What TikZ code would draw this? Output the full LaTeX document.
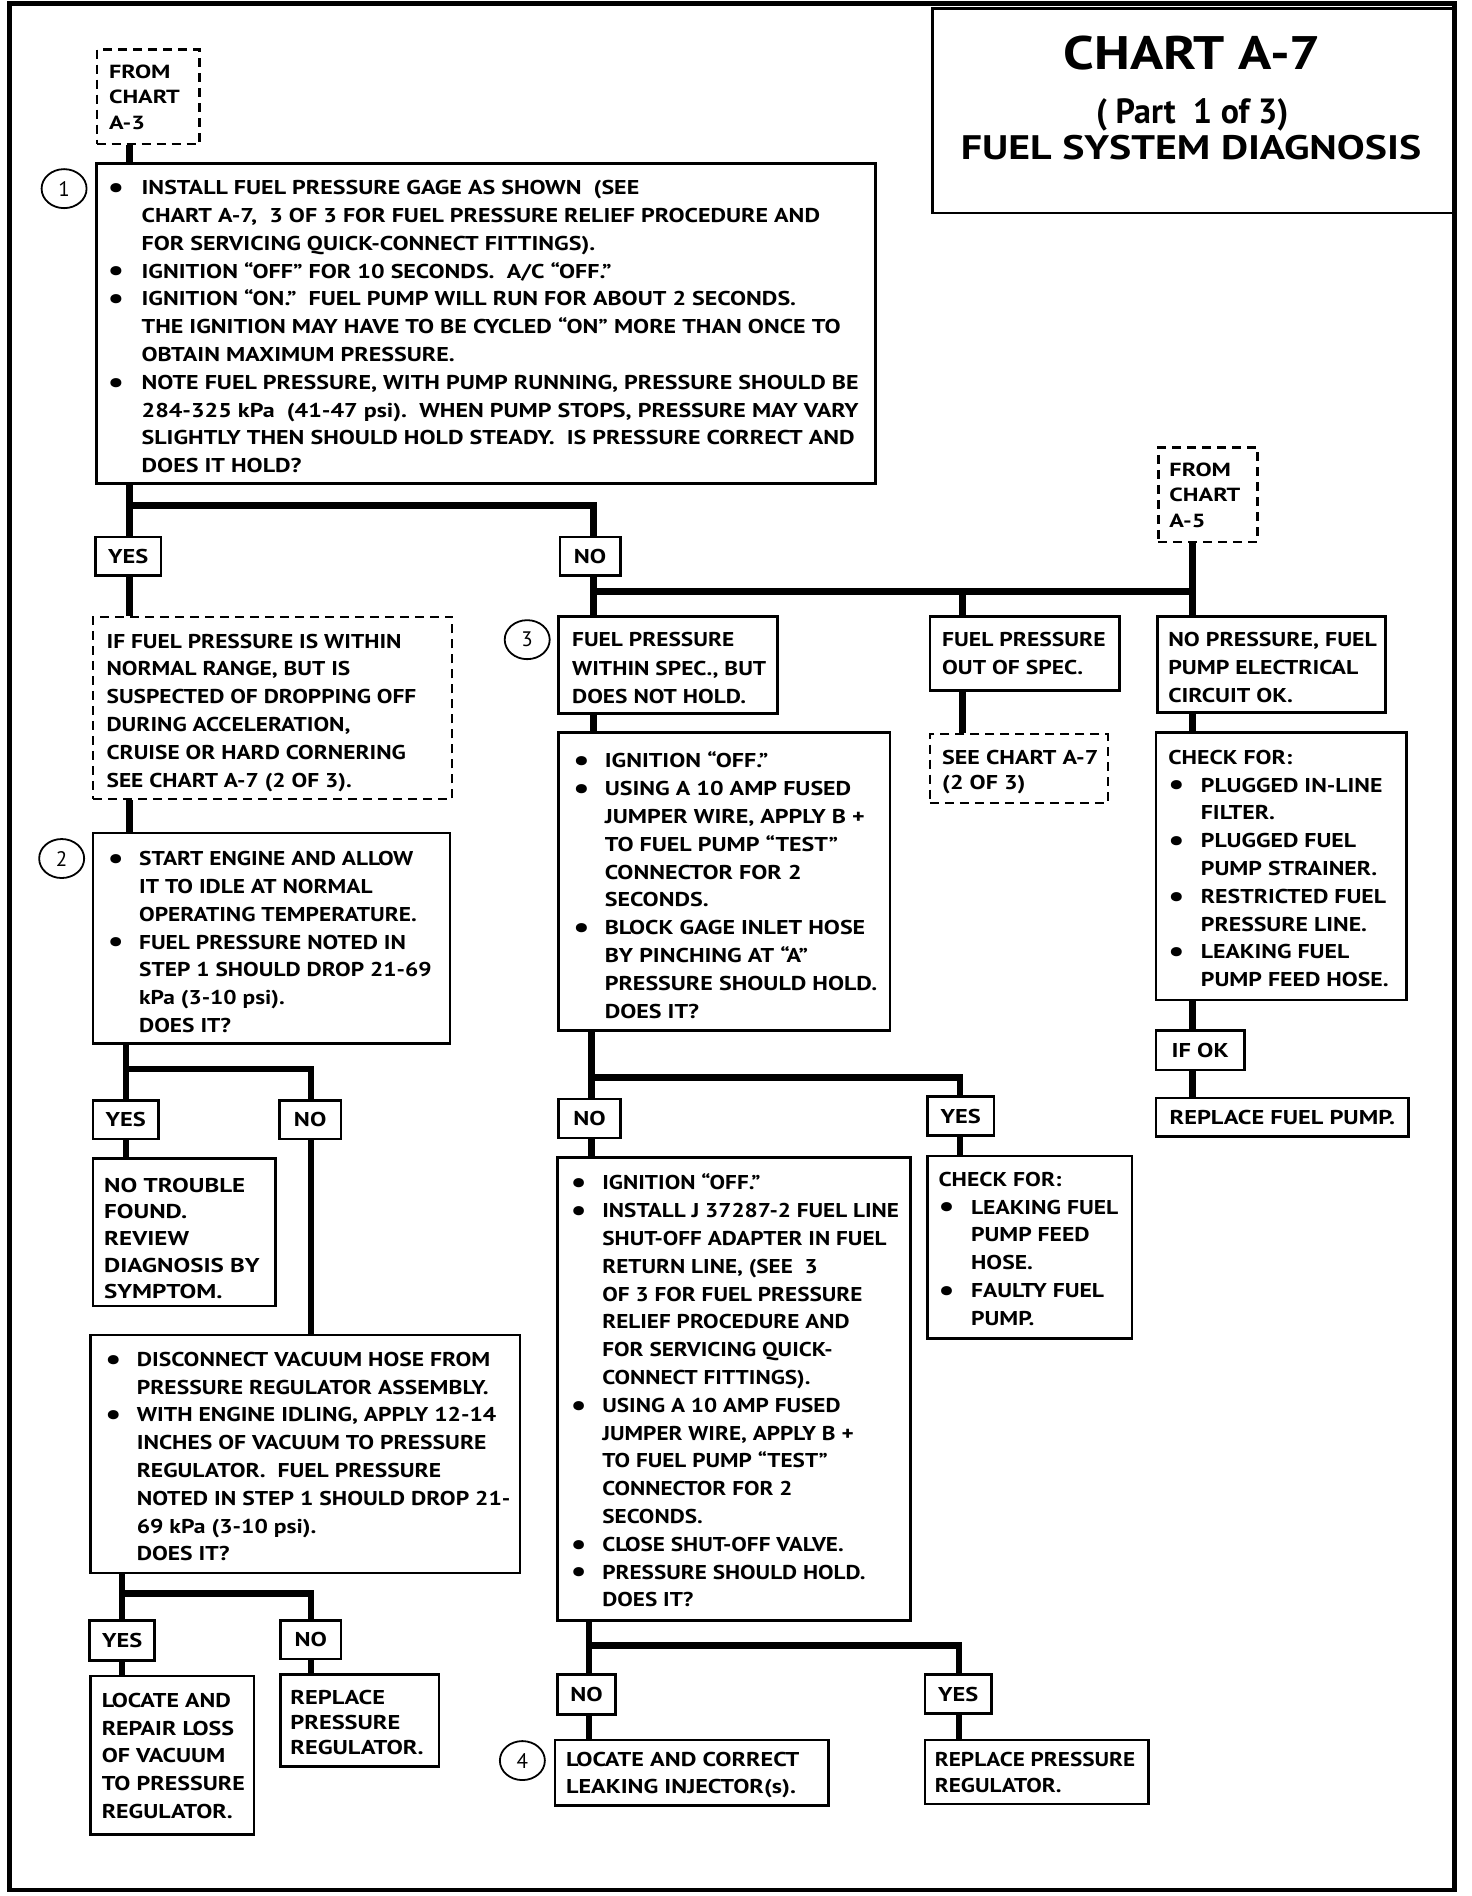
\documentclass[tikz,border=0pt]{standalone}
\usepackage{fontspec}
\setmainfont{PT Sans}
\usepackage{graphicx}
\usetikzlibrary{shapes.geometric}
\newlength\bw
\newcommand\tl[2][1.19]{\scalebox{#1}[1]{\vtop{\halign{##\hfil\cr#2\crcr}}}}
\newcommand\blist[3][1.19]{\setlength\bw{#2}\tl[#1]{#3}}
\newcommand\bul{\hbox to\bw{\raisebox{-2.8pt}{\scalebox{1.5}{\textbullet}}\hfil}}
\newcommand\nob{\hbox to\bw{}}
\newcommand\sx[1]{\scalebox{1.22}[1]{#1}}
\begin{document}
\begin{tikzpicture}[x=1.2092pt,y=-1.2092pt,
  box/.style={draw, line width=2.6pt, rectangle, inner sep=0pt},
  dbox/.style={box, line width=2.2pt, dash pattern=on 9pt off 6pt},
  rect/.style n args={4}{at={({(#1+#3)/2},{(#2+#4)/2})}, minimum width={(#3-#1)*1.2092pt}, minimum height={(#4-#2)*1.2092pt}},
  txt/.style={anchor=base west, inner sep=0pt, font=\bfseries\fontsize{20}{27.8}\selectfont},
  lbl/.style={box, font=\bfseries\fontsize{20}{24}\selectfont},
  conn/.style={line width=6.5pt},
  num/.style={draw, ellipse, line width=1.8pt, inner sep=0pt, minimum width=45pt, minimum height=39pt, font=\fontsize{21}{24}\selectfont}
]
\useasboundingbox (0,0) rectangle (1217.3,1568);
% frame
\draw[line width=4.5pt] (8,3) rectangle (1203,1563);
% title
\node[box, rect={771}{7}{1203}{176}] (title) {};
\node[anchor=base, inner sep=0pt, font=\bfseries\fontsize{47}{50}\selectfont] (tt1) at (986,57.7) {\scalebox{1.17}[1]{CHART A-7}};
\node[anchor=base, inner sep=0pt, font=\bfseries\fontsize{35}{40}\selectfont] (tt2) at (986,102) {\scalebox{0.97}[1]{( Part\ \ 1 of 3)}};
\node[anchor=base, inner sep=0pt, font=\bfseries\fontsize{34}{40}\selectfont] (tt3) at (985,132) {\scalebox{1.23}[1]{FUEL SYSTEM DIAGNOSIS}};

% column coordinates
\coordinate (xA) at (107,0);
\coordinate (xA2) at (104,0);
\coordinate (xA3) at (101,0);
\coordinate (xB) at (257,0);
\coordinate (xC) at (491,0);
\coordinate (xC2) at (489,0);
\coordinate (xC3) at (487,0);
\coordinate (xD) at (796,0);
\coordinate (xE) at (986,0);
\coordinate (xF) at (794,0);
\coordinate (xG) at (793,0);
\coordinate (j1) at (107,418);
\coordinate (j2) at (491,489);
\coordinate (j3) at (986,489);
\coordinate (j4) at (104,884);
\coordinate (j5) at (101,1318);
\coordinate (j6) at (489,891);
\coordinate (j7) at (487,1361);

% boxes
\node[dbox, rect={80}{41}{165}{119}] (a3) {};
\node[box, rect={80}{135}{724}{400}] (b1) {};
\node[lbl, rect={79}{444}{133}{476}] (yes1) {\sx{YES}};
\node[lbl, rect={463}{444}{513}{476}] (no1) {\sx{NO}};
\node[dbox, rect={77}{510}{374}{661}] (dA) {};
\node[box, rect={77}{689}{372}{863}] (b2) {};
\node[lbl, rect={77}{910}{131}{942}] (yes2) {\sx{YES}};
\node[lbl, rect={231}{910}{282}{942}] (no2) {\sx{NO}};
\node[box, rect={77}{958}{228}{1080}] (nt) {};
\node[box, rect={75}{1104}{430}{1301}] (disc) {};
\node[lbl, rect={74}{1340}{128}{1373}] (yes3) {\sx{YES}};
\node[lbl, rect={232}{1340}{282}{1372}] (no3) {\sx{NO}};
\node[box, rect={75}{1386}{210}{1517}] (lrl) {};
\node[box, rect={232}{1385}{363}{1461}] (rpr1) {};
\node[dbox, rect={958}{370}{1040}{448}] (a5) {};
\node[box, rect={462}{510}{643}{590}] (b3) {};
\node[box, rect={462}{606}{736}{852}] (ign) {};
\node[lbl, rect={462}{909}{513}{941}] (no4) {\sx{NO}};
\node[lbl, rect={767}{907}{822}{939}] (yes4) {\sx{YES}};
\node[box, rect={461}{957}{753}{1340}] (big) {};
\node[box, rect={767}{956}{936}{1107}] (chk1) {};
\node[lbl, rect={461}{1385}{509}{1418}] (no5) {\sx{NO}};
\node[lbl, rect={765}{1385}{820}{1417}] (yes5) {\sx{YES}};
\node[box, rect={459}{1439}{685}{1493}] (loc) {};
\node[box, rect={765}{1439}{950}{1492}] (rpr2) {};
\node[box, rect={769}{510}{926}{571}] (oos) {};
\node[dbox, rect={769}{607}{916}{664}] (see) {};
\node[box, rect={957}{510}{1146}{589}] (nop) {};
\node[box, rect={956}{606}{1163}{827}] (chk2) {};
\node[lbl, rect={956}{852}{1029}{885}] (ifok) {\sx{IF OK}};
\node[lbl, rect={956}{908}{1165}{940}] (rfp) {\sx{REPLACE FUEL PUMP.}};

% step numbers
\node[num] (c1) at (53,156) {1};
\node[num] (c2) at (51,710) {2};
\node[num] (c3) at (436,529) {3};
\node[num] (c4) at (432,1456) {4};

% connectors
\draw[conn] (a3.south -| xA) -- (b1.north -| xA);
\draw[conn] (b1.south -| xA) -- (yes1.north -| xA);
\draw[conn] (j1) -| (no1.north -| xC);
\draw[conn] (yes1.south -| xA) -- (dA.north -| xA);
\draw[conn] (dA.south -| xA) -- (b2.north -| xA);
\draw[conn] (b2.south -| xA2) -- (yes2.north -| xA2);
\draw[conn] (j4) -| (no2.north -| xB);
\draw[conn] (yes2.south -| xA2) -- (nt.north -| xA2);
\draw[conn] (no2.south -| xB) -- (disc.north -| xB);
\draw[conn] (disc.south -| xA3) -- (yes3.north -| xA3);
\draw[conn] (j5) -| (no3.north -| xB);
\draw[conn] (yes3.south -| xA3) -- (lrl.north -| xA3);
\draw[conn] (no3.south -| xB) -- (rpr1.north -| xB);
\draw[conn] (no1.south -| xC) -- (b3.north -| xC);
\draw[conn] (j2) -- (j3);
\draw[conn] (a5.south -| xE) -- (nop.north -| xE);
\draw[conn] (xD |- j2) -- (oos.north -| xD);
\draw[conn] (oos.south -| xD) -- (see.north -| xD);
\draw[conn] (b3.south -| xC) -- (ign.north -| xC);
\draw[conn] (ign.south -| xC2) -- (no4.north -| xC2);
\draw[conn] (j6) -| (yes4.north -| xF);
\draw[conn] (no4.south -| xC2) -- (big.north -| xC2);
\draw[conn] (yes4.south -| xF) -- (chk1.north -| xF);
\draw[conn] (big.south -| xC3) -- (no5.north -| xC3);
\draw[conn] (j7) -| (yes5.north -| xG);
\draw[conn] (no5.south -| xC3) -- (loc.north -| xC3);
\draw[conn] (yes5.south -| xG) -- (rpr2.north -| xG);
\draw[conn] (nop.south -| xE) -- (chk2.north -| xE);
\draw[conn] (chk2.south -| xE) -- (ifok.north -| xE);
\draw[conn] (ifok.south -| xE) -- (rfp.north -| xE);

% texts
\node[txt, font=\bfseries\fontsize{19}{25.4}\selectfont] (ta3) at (90,65) {\tl[1.27]{FROM\cr CHART\cr A-3}};
\node[txt] (t1) at (89,161) {\blist[1.2]{28.2pt}{%
\bul INSTALL FUEL PRESSURE GAGE AS SHOWN\ \ (SEE\cr
\nob CHART A-7,\ \ 3 OF 3 FOR FUEL PRESSURE RELIEF PROCEDURE AND\cr
\nob FOR SERVICING QUICK-CONNECT FITTINGS).\cr
\bul IGNITION “OFF” FOR 10 SECONDS.\ \ A/C “OFF.”\cr
\bul IGNITION “ON.”\ \ FUEL PUMP WILL RUN FOR ABOUT 2 SECONDS.\cr
\nob THE IGNITION MAY HAVE TO BE CYCLED “ON” MORE THAN ONCE TO\cr
\nob OBTAIN MAXIMUM PRESSURE.\cr
\bul NOTE FUEL PRESSURE, WITH PUMP RUNNING, PRESSURE SHOULD BE\cr
\nob 284-325 kPa\ \ (41-47 psi).\ \ WHEN PUMP STOPS, PRESSURE MAY VARY\cr
\nob SLIGHTLY THEN SHOULD HOLD STEADY.\ \ IS PRESSURE CORRECT AND\cr
\nob DOES IT HOLD?}};
\node[txt] (tdA) at (88,536) {\tl[1.17]{IF FUEL PRESSURE IS WITHIN\cr NORMAL RANGE, BUT IS\cr SUSPECTED OF DROPPING OFF\cr DURING ACCELERATION,\cr CRUISE OR HARD CORNERING\cr SEE CHART A-7 (2 OF 3).}};
\node[txt] (t2) at (89,716) {\blist[1.17]{26.8pt}{%
\bul START ENGINE AND ALLOW\cr
\nob IT TO IDLE AT NORMAL\cr
\nob OPERATING TEMPERATURE.\cr
\bul FUEL PRESSURE NOTED IN\cr
\nob STEP 1 SHOULD DROP 21-69\cr
\nob kPa (3-10 psi).\cr
\nob DOES IT?}};
\node[txt, font=\bfseries\fontsize{20}{26.6}\selectfont] (tnt) at (86,986) {\tl[1.25]{NO TROUBLE\cr FOUND.\cr REVIEW\cr DIAGNOSIS BY\cr SYMPTOM.}};
\node[txt] (tdisc) at (87,1130) {\blist[1.18]{26.6pt}{%
\bul DISCONNECT VACUUM HOSE FROM\cr
\nob PRESSURE REGULATOR ASSEMBLY.\cr
\bul WITH ENGINE IDLING, APPLY 12-14\cr
\nob INCHES OF VACUUM TO PRESSURE\cr
\nob REGULATOR.\ \ FUEL PRESSURE\cr
\nob NOTED IN STEP 1 SHOULD DROP 21-\cr
\nob 69 kPa (3-10 psi).\cr
\nob DOES IT?}};
\node[txt] (tlrl) at (84,1412) {\tl[1.2]{LOCATE AND\cr REPAIR LOSS\cr OF VACUUM\cr TO PRESSURE\cr REGULATOR.}};
\node[txt, font=\bfseries\fontsize{20}{24.8}\selectfont] (trpr1) at (240,1410) {\tl[1.22]{REPLACE\cr PRESSURE\cr REGULATOR.}};
\node[txt, font=\bfseries\fontsize{19}{25.4}\selectfont] (ta5) at (967,394) {\tl[1.27]{FROM\cr CHART\cr A-5}};
\node[txt, font=\bfseries\fontsize{20}{28.4}\selectfont] (tb3) at (473,535) {\tl[1.17]{FUEL PRESSURE\cr WITHIN SPEC., BUT\cr DOES NOT HOLD.}};
\node[txt] (tign) at (474,635) {\blist[1.2]{26.2pt}{%
\bul IGNITION “OFF.”\cr
\bul USING A 10 AMP FUSED\cr
\nob JUMPER WIRE, APPLY B +\cr
\nob TO FUEL PUMP “TEST”\cr
\nob CONNECTOR FOR 2\cr
\nob SECONDS.\cr
\bul BLOCK GAGE INLET HOSE\cr
\nob BY PINCHING AT “A”\cr
\nob PRESSURE SHOULD HOLD.\cr
\nob DOES IT?}};
\node[txt] (tbig) at (472,984) {\blist[1.16]{27.1pt}{%
\bul IGNITION “OFF.”\cr
\bul INSTALL J 37287-2 FUEL LINE\cr
\nob SHUT-OFF ADAPTER IN FUEL\cr
\nob RETURN LINE, (SEE\ \ 3\cr
\nob OF 3 FOR FUEL PRESSURE\cr
\nob RELIEF PROCEDURE AND\cr
\nob FOR SERVICING QUICK-\cr
\nob CONNECT FITTINGS).\cr
\bul USING A 10 AMP FUSED\cr
\nob JUMPER WIRE, APPLY B +\cr
\nob TO FUEL PUMP “TEST”\cr
\nob CONNECTOR FOR 2\cr
\nob SECONDS.\cr
\bul CLOSE SHUT-OFF VALVE.\cr
\bul PRESSURE SHOULD HOLD.\cr
\nob DOES IT?}};
\node[txt] (tchk1) at (776,981) {\blist[1.18]{27.6pt}{%
CHECK FOR:\cr
\bul LEAKING FUEL\cr
\nob PUMP FEED\cr
\nob HOSE.\cr
\bul FAULTY FUEL\cr
\nob PUMP.}};
\node[txt, font=\bfseries\fontsize{20}{26.6}\selectfont] (tloc) at (468,1461) {\tl[1.21]{LOCATE AND CORRECT\cr LEAKING INJECTOR(s).}};
\node[txt, font=\bfseries\fontsize{20}{25.4}\selectfont] (trpr2) at (773,1461) {\tl[1.16]{REPLACE PRESSURE\cr REGULATOR.}};
\node[txt] (toos) at (779,535) {\tl[1.18]{FUEL PRESSURE\cr OUT OF SPEC.}};
\node[txt, font=\bfseries\fontsize{20}{25.4}\selectfont] (tsee) at (779,632) {\tl[1.2]{SEE CHART A-7\cr (2 OF 3)}};
\node[txt] (tnop) at (966,535) {\tl[1.19]{NO PRESSURE, FUEL\cr PUMP ELECTRICAL\cr CIRCUIT OK.}};
\node[txt] (tchk2) at (966,632) {\blist[1.19]{27.4pt}{%
CHECK FOR:\cr
\bul PLUGGED IN-LINE\cr
\nob FILTER.\cr
\bul PLUGGED FUEL\cr
\nob PUMP STRAINER.\cr
\bul RESTRICTED FUEL\cr
\nob PRESSURE LINE.\cr
\bul LEAKING FUEL\cr
\nob PUMP FEED HOSE.}};
\end{tikzpicture}
\end{document}
